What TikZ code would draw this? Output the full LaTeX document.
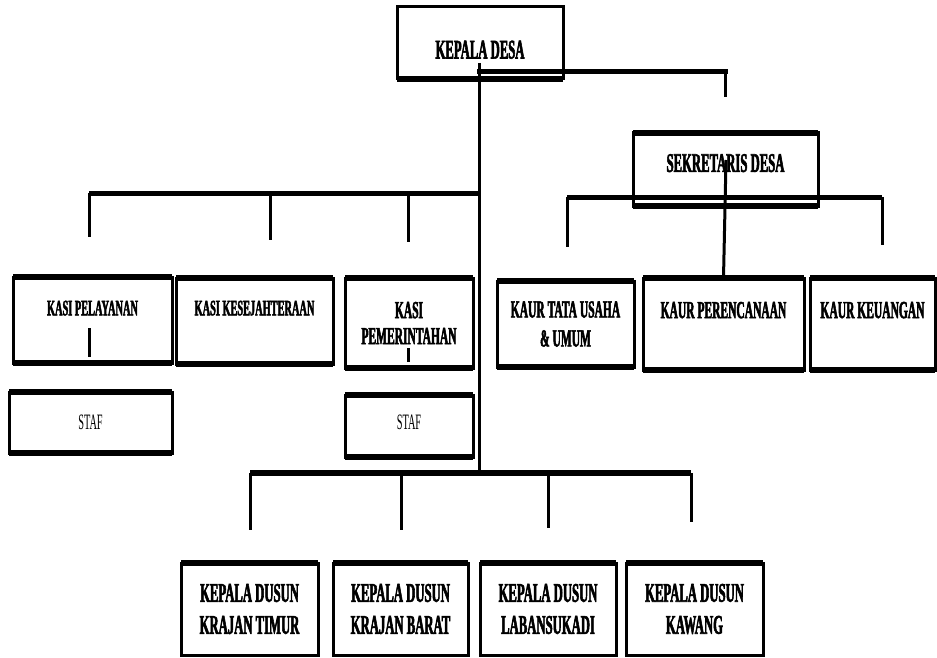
\documentclass[tikz,border=0pt]{standalone}
\usepackage{fontspec}
\newfontfamily\condfont[FakeStretch=0.47]{Liberation Serif}
\newfontfamily\condbold[FakeStretch=0.47,FakeBold=2]{Liberation Serif Bold}
\begin{document}
\begin{tikzpicture}[x=1pt,y=-1pt,
  box/.style={draw, line width=3pt, inner sep=0pt, outer sep=0pt, fill=white},
  edge/.style={line width=5.5pt},
  conn/.style={line width=3pt},
  bar/.style={line width=5pt},
  tA/.style={font=\condbold\fontsize{27}{32}\selectfont},
  tB/.style={font=\condbold\fontsize{24.5}{29}\selectfont},
  tC/.style={font=\condbold\fontsize{22}{26}\selectfont},
  tS/.style={font=\condfont\fontsize{22}{24}\selectfont}]
\useasboundingbox (0,0) rectangle (937,658);
\fill[white] (0,0) rectangle (937,658);

% boxes
\node[box, tA, minimum width=166pt, minimum height=72pt, text height=31pt, text depth=0pt] (kd) at (480,43) {KEPALA DESA};
\node[box, tA, minimum width=185pt, minimum height=73pt, text depth=13pt] (sek) at (725.5,169.5) {SEKRETARIS DESA};

\node[box, tC, minimum width=159pt, minimum height=86pt, text depth=24pt] (kp) at (92.5,320) {KASI PELAYANAN};
\node[box, tC, minimum width=157pt, minimum height=86pt, text depth=26pt] (kk) at (254.5,321) {KASI KESEJAHTERAAN};
\node[box, tB, minimum width=128pt, minimum height=90pt, align=center] (kpem) at (409,323) {KASI\\[-3pt]PEMERINTAHAN};

\node[box, tS, minimum width=163pt, minimum height=61pt] (staf1) at (90.5,422.5) {STAF};
\node[box, tS, minimum width=128pt, minimum height=62pt, text depth=8pt] (staf2) at (409,426) {STAF};

\node[box, tB, minimum width=137pt, minimum height=86pt, align=center] (ktu) at (565.5,324) {KAUR TATA USAHA\\\& UMUM};
\node[box, tB, minimum width=161pt, minimum height=92pt, text depth=28pt] (kpr) at (723.5,324) {KAUR PERENCANAAN};
\node[box, tB, minimum width=125pt, minimum height=92pt, text depth=28pt] (kku) at (872.5,324) {KAUR KEUANGAN};

\node[box, tA, minimum width=137pt, minimum height=92pt, align=center] (d1) at (249.5,609) {KEPALA DUSUN\\KRAJAN TIMUR};
\node[box, tA, minimum width=135pt, minimum height=92pt, align=center] (d2) at (400.5,609) {KEPALA DUSUN\\KRAJAN BARAT};
\node[box, tA, minimum width=136pt, minimum height=92pt, align=center] (d3) at (548,609) {KEPALA DUSUN\\LABANSUKADI};
\node[box, tA, minimum width=137pt, minimum height=92pt, align=center] (d4) at (694.5,609) {KEPALA DUSUN\\KAWANG};

% heavier edges
\foreach \n in {kd,sek,kp,kk,kpem,staf1,staf2,ktu,kpr,kku}
  \draw[edge] (\n.south west) -- (\n.south east);
\foreach \n in {sek,kp,kk,kpem,staf1,staf2,ktu,kpr,kku,d1,d2,d3,d4}
  \draw[edge] (\n.north west) -- (\n.north east);

% coordinates of the connector lines
\coordinate (kdA) at (479,63);
\coordinate (kdR) at (479,72);
\coordinate (kdRc) at (725,72);
\coordinate (kdRe) at (725,97);
\coordinate (lbar) at (479,193);
\coordinate (lb1) at (89,193);  \coordinate (lb1e) at (89,237);
\coordinate (lb2) at (270,193); \coordinate (lb2e) at (270,240);
\coordinate (lb3) at (408,193); \coordinate (lb3e) at (408,242);
\coordinate (bbar) at (479,473);
\coordinate (bb1) at (250,473); \coordinate (bb1e) at (250,530);
\coordinate (bb2) at (401,473); \coordinate (bb2e) at (401,530);
\coordinate (bb3) at (548,473); \coordinate (bb3e) at (548,528);
\coordinate (bb4) at (691,473); \coordinate (bb4e) at (691,522);
\coordinate (sA) at (726,160);
\coordinate (sb1) at (567,197); \coordinate (sb1e) at (567,247);
\coordinate (sb2) at (882,197); \coordinate (sb2e) at (882,245);
\coordinate (kpi1) at (89,328); \coordinate (kpi2) at (89,357);
\coordinate (kmi1) at (408,348); \coordinate (kmi2) at (408,362);

% Kepala desa trunk
\draw[conn] (kdA) -- (bbar);
\draw[bar, line cap=rect] (kdR) -- (kdRc);
\draw[conn] (kdRc) -- (kdRe);
% left branch
\draw[bar] (lb1) -- (lbar);
\draw[conn] (lb1) -- (lb1e);
\draw[conn] (lb2) -- (lb2e);
\draw[conn] (lb3) -- (lb3e);
% bottom branch
\draw[line width=6pt] (bb1) -- (bb4);
\draw[conn] (bb1) -- (bb1e);
\draw[conn] (bb2) -- (bb2e);
\draw[conn] (bb3) -- (bb3e);
\draw[conn] (bb4) -- (bb4e);
% sekretaris branch
\draw[bar] (sb1) -- (sb2);
\draw[conn] (sb1) -- (sb1e);
\draw[conn] (sb2) -- (sb2e);
\draw[conn] (sA) -- (kpr.north);
% small inner lines
\draw[conn] (kpi1) -- (kpi2);
\draw[conn] (kmi1) -- (kmi2);
\end{tikzpicture}
\end{document}
